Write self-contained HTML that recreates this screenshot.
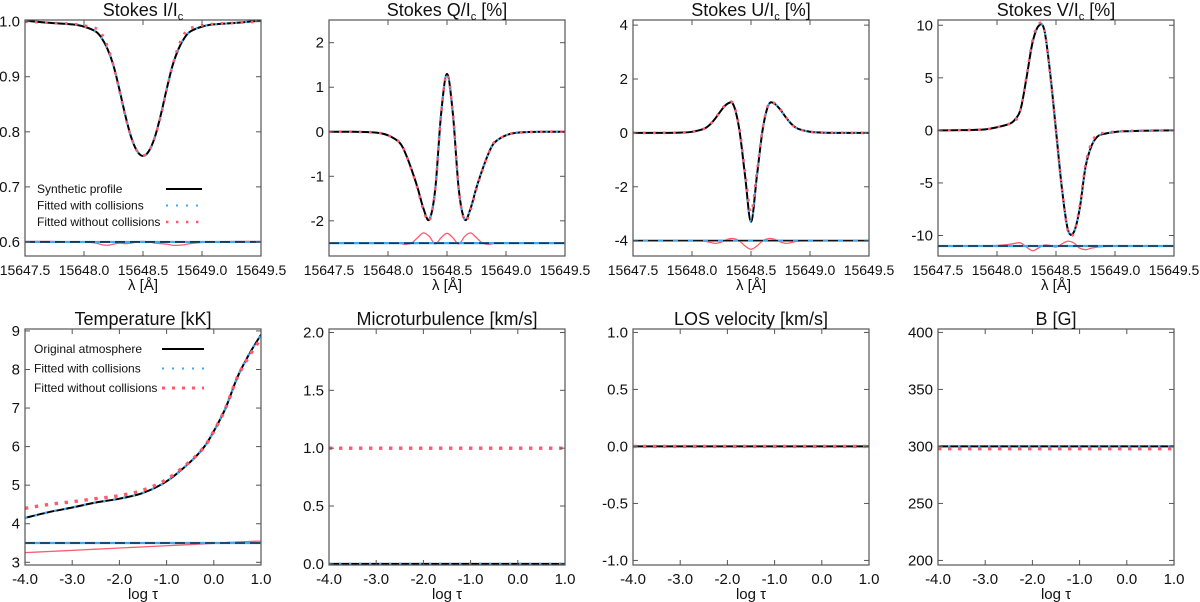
<!DOCTYPE html>
<html><head><meta charset="utf-8"><style>
html,body{margin:0;padding:0;background:#fff;}
svg{display:block;font-family:"Liberation Sans",Arial,sans-serif;}
</style></head><body>
<svg id="fig" width="1200" height="602" viewBox="0 0 1200 602" xmlns="http://www.w3.org/2000/svg"></svg>
<script>
// ---------- DATA ----------
const lambdaGrid = [15647.5,15647.7,15647.9,15648.0,15648.1,15648.15,15648.2,15648.25,15648.3,15648.35,15648.4,15648.45,15648.5,15648.55,15648.6,15648.65,15648.7,15648.75,15648.8,15648.85,15648.9,15649.0,15649.1,15649.3,15649.5];
const stokesISyn = [1.002,0.998,0.995,0.991,0.982,0.97,0.95,0.92,0.877,0.83,0.79,0.765,0.756,0.765,0.79,0.83,0.877,0.92,0.95,0.97,0.982,0.991,0.995,0.998,1.002];
const stokesIWith = [1.002,0.998,0.995,0.991,0.982,0.97,0.95,0.92,0.877,0.83,0.79,0.765,0.756,0.765,0.79,0.83,0.877,0.92,0.95,0.97,0.982,0.991,0.995,0.998,1.002];
const stokesIWithout = [1.0,0.998,0.996,0.993,0.988,0.978,0.955,0.92,0.875,0.828,0.79,0.765,0.757,0.765,0.79,0.828,0.875,0.92,0.955,0.978,0.988,0.993,0.996,0.998,1.0];
const stokesIResid = [0.601,0.601,0.6,0.6,0.598,0.595,0.594,0.596,0.598,0.597,0.598,0.6,0.601,0.6,0.598,0.597,0.596,0.594,0.594,0.595,0.597,0.599,0.6,0.601,0.601];
const stokesQSyn = [0,0,-0.02,-0.08,-0.25,-0.5,-0.85,-1.25,-1.72,-1.97,-1.3,0.4,1.3,0.4,-1.3,-1.97,-1.72,-1.25,-0.85,-0.5,-0.25,-0.08,-0.02,0,0];
const stokesQWith = [0,0,-0.02,-0.08,-0.25,-0.5,-0.85,-1.25,-1.72,-1.97,-1.3,0.4,1.3,0.4,-1.3,-1.97,-1.72,-1.25,-0.85,-0.5,-0.25,-0.08,-0.02,0,0];
const stokesQWithout = [0,0,-0.02,-0.08,-0.24,-0.5,-0.86,-1.27,-1.75,-2.0,-1.3,0.4,1.3,0.4,-1.3,-2.0,-1.75,-1.27,-0.86,-0.5,-0.24,-0.08,-0.02,0,0];
const stokesQResid = [-2.5,-2.5,-2.5,-2.5,-2.51,-2.53,-2.5,-2.38,-2.27,-2.35,-2.52,-2.38,-2.28,-2.38,-2.52,-2.35,-2.27,-2.38,-2.5,-2.53,-2.51,-2.5,-2.5,-2.5,-2.5];
const stokesUSyn = [0,0,0.01,0.04,0.15,0.3,0.55,0.85,1.08,1.05,0.15,-1.6,-3.3,-1.6,0.15,1.05,1.08,0.85,0.55,0.3,0.15,0.04,0.01,0,0];
const stokesUWith = [0,0,0.01,0.04,0.15,0.3,0.55,0.85,1.08,1.05,0.15,-1.6,-3.3,-1.6,0.15,1.05,1.08,0.85,0.55,0.3,0.15,0.04,0.01,0,0];
const stokesUWithout = [0,0,0.01,0.04,0.15,0.3,0.56,0.87,1.1,1.08,0.2,-1.45,-2.95,-1.45,0.2,1.08,1.1,0.87,0.56,0.3,0.15,0.04,0.01,0,0];
const stokesUResid = [-4,-4,-4,-4,-4.02,-4.06,-4.1,-4.05,-3.95,-3.92,-4.0,-4.2,-4.32,-4.2,-4.0,-3.92,-3.95,-4.05,-4.1,-4.06,-4.02,-4,-4,-4,-4];
const stokesVSyn = [0,0.02,0.1,0.3,0.6,1.0,2.0,5.0,8.3,9.9,9.6,5.5,0.0,-5.5,-9.4,-9.7,-7.5,-3.5,-1.5,-0.6,-0.35,-0.15,-0.08,-0.02,0];
const stokesVWith = [0,0.02,0.1,0.3,0.6,1.0,2.0,5.0,8.3,9.9,9.6,5.5,0.0,-5.5,-9.4,-9.7,-7.5,-3.5,-1.5,-0.6,-0.35,-0.15,-0.08,-0.02,0];
const stokesVWithout = [0,0.02,0.1,0.3,0.6,0.8,2.0,5.1,8.5,10.1,9.6,5.4,0.0,-5.5,-9.5,-9.8,-7.3,-3.3,-1.2,-0.4,-0.25,-0.12,-0.06,-0.02,0];
const stokesVResid = [-11,-11,-11,-10.95,-10.85,-10.75,-10.7,-11.1,-11.45,-11.2,-10.9,-10.95,-11.1,-10.8,-10.55,-10.7,-11.2,-11.35,-11.2,-11.1,-11.05,-11,-11,-11,-11];

const logTauGrid = [-4,-3.5,-3,-2.5,-2,-1.5,-1,-0.5,-0.2,0,0.25,0.5,0.75,1];
const tempOrig = [4.15,4.3,4.42,4.55,4.65,4.8,5.1,5.6,6.0,6.4,7.0,7.8,8.4,8.9];
const tempWith = [4.15,4.3,4.42,4.55,4.65,4.8,5.1,5.6,6.0,6.4,7.0,7.8,8.4,8.9];
const tempWithout = [4.4,4.5,4.57,4.65,4.73,4.87,5.15,5.62,6.0,6.4,7.0,7.8,8.35,8.8];
const tempResidRef = [3.5,3.5,3.5,3.5,3.5,3.5,3.5,3.5,3.5,3.5,3.5,3.5,3.5,3.5];
const tempResid = [3.25,3.28,3.31,3.34,3.37,3.4,3.43,3.46,3.48,3.49,3.51,3.53,3.54,3.55];
const flatGrid = [-4,1];
const microOrig = [0,0], microWith = [0,0], microWithout = [1.0,1.0];
const losOrig = [0,0], losWith = [0,0], losWithout = [0,0];
const bOrig = [300,300], bWith = [300,300], bWithout = [298,298];

const lamTicks = [15647.5,15648.0,15648.5,15649.0,15649.5];
const lamTickLabels = ["15647.5","15648.0","15648.5","15649.0","15649.5"];
const tauTicks = [-4,-3,-2,-1,0,1];
const tauTickLabels = ["-4.0","-3.0","-2.0","-1.0","0.0","1.0"];

// ---------- DRAW ----------
const NS="http://www.w3.org/2000/svg";
const svg=document.getElementById('fig');
const BLACK="#000", BLUE="#3fa9f5", RED="#ff5a6e";
function el(tag,attrs,parent){const e=document.createElementNS(NS,tag);for(const k in attrs)e.setAttribute(k,attrs[k]);(parent||svg).appendChild(e);return e;}
function smooth(pts){
  if(pts.length<3) return "M"+pts.map(p=>p[0].toFixed(2)+","+p[1].toFixed(2)).join("L");
  let d="M"+pts[0][0].toFixed(2)+","+pts[0][1].toFixed(2);
  for(let i=0;i<pts.length-1;i++){
    const p0=pts[Math.max(0,i-1)],p1=pts[i],p2=pts[i+1],p3=pts[Math.min(pts.length-1,i+2)];
    const c1=[p1[0]+(p2[0]-p0[0])/6,p1[1]+(p2[1]-p0[1])/6];
    const c2=[p2[0]-(p3[0]-p1[0])/6,p2[1]-(p3[1]-p1[1])/6];
    d+="C"+c1[0].toFixed(2)+","+c1[1].toFixed(2)+" "+c2[0].toFixed(2)+","+c2[1].toFixed(2)+" "+p2[0].toFixed(2)+","+p2[1].toFixed(2);
  }
  return d;
}
function panel(cfg){
  const g=el('g',{});
  
  
  const L=cfg.x0,R=cfg.x1,T=cfg.y0,B=cfg.y1;
  const sx=v=>L+(v-cfg.xr[0])/(cfg.xr[1]-cfg.xr[0])*(R-L);
  const sy=v=>B-(v-cfg.yr[0])/(cfg.yr[1]-cfg.yr[0])*(B-T);
  const clip=el('clipPath',{id:cfg.name+'-clip'},g);
  el('rect',{x:L,y:T,width:R-L,height:B-T},clip);
  const plot=el('g',{'clip-path':'url(#'+cfg.name+'-clip)'},g);
  
  
  cfg.series.forEach(s=>{
    const pts=s.x.map((xv,i)=>[sx(xv),sy(s.y[i])]);
    const p=el('path',{d:smooth(pts),fill:'none',stroke:s.c,'stroke-width':s.w,'stroke-dasharray':s.dash||'none','stroke-linecap':'butt'},plot);
    
    
  });
  const frame=el('rect',{x:L,y:T,width:R-L,height:B-T,fill:'none',stroke:'#555','stroke-width':1.2},g);
  
  
  cfg.xt.forEach((t,i)=>{
    const X=sx(t);
    el('line',{x1:X,x2:X,y1:B,y2:B-5,stroke:'#555','stroke-width':1},g);
    el('line',{x1:X,x2:X,y1:T,y2:T+5,stroke:'#555','stroke-width':1},g);
    const tx=el('text',{x:X,y:B+19,'font-size':cfg.xfs||15,'text-anchor':'middle',fill:'#111'},g);
    tx.textContent=cfg.xtl[i];
    
    
  });
  cfg.yt.forEach((t,i)=>{
    const Y=sy(t);
    el('line',{x1:L,x2:L+5,y1:Y,y2:Y,stroke:'#555','stroke-width':1},g);
    el('line',{x1:R,x2:R-5,y1:Y,y2:Y,stroke:'#555','stroke-width':1},g);
    const ty=el('text',{x:L-5,y:Y+5,'font-size':15,'text-anchor':'end',fill:'#111'},g);
    ty.textContent=cfg.ytl[i];
    
    
  });
  const tt=el('text',{x:(L+R)/2,y:T-4,'font-size':18,'text-anchor':'middle',fill:'#111'},g);
  tt.innerHTML=cfg.title;
  
  
  const xl=el('text',{x:(L+R)/2,y:B+34,'font-size':15,'text-anchor':'middle',fill:'#111'},g);
  xl.textContent=cfg.xlabel;
  
  
  if(cfg.legend){
    cfg.legend.items.forEach((it,i)=>{
      const y=cfg.legend.y+i*cfg.legend.dy;
      const lt=el('text',{x:cfg.legend.x,y:y+4,'font-size':12,fill:'#111'},g);
      lt.textContent=it.t;
      
      
      el('line',{x1:cfg.legend.lx0,x2:cfg.legend.lx1,y1:y,y2:y,stroke:it.c,'stroke-width':it.w,'stroke-dasharray':it.dash||'none'},g);
    });
  }
}
function lamSeries(syn,w,wo,res,base){
  return [
    {name:'residual-without-collisions',x:lambdaGrid,y:res,c:RED,w:1.3},
    {name:'residual-reference-blue',x:[15647.5,15649.5],y:[base,base],c:BLUE,w:2.2},
    {name:'residual-reference-black',x:[15647.5,15649.5],y:[base,base],c:'#111',w:1.3,dash:'10 5'},
    {name:'synthetic-profile',x:lambdaGrid,y:syn,c:BLACK,w:2},
    {name:'fitted-with-collisions',x:lambdaGrid,y:w,c:BLUE,w:2.2,dash:'2 8'},
    {name:'fitted-without-collisions',x:lambdaGrid,y:wo,c:RED,w:2.6,dash:'2.6 7.4'}
  ];
}
const rowTop={y0:20,y1:256}, rowBot={y0:329,y1:565};
const cols=[[25,261],[329,565],[633,869],[938,1174]];
const XL="λ [Å]", TL="log τ";
panel({name:'stokes-i-panel',xfs:14,x0:cols[0][0],x1:cols[0][1],...rowTop,xr:[15647.5,15649.5],yr:[0.5745,1.003],
  xt:lamTicks,xtl:lamTickLabels,yt:[0.6,0.7,0.8,0.9,1.0],ytl:["0.6","0.7","0.8","0.9","1.0"],
  title:'Stokes I/I<tspan font-size="11" dy="4">c</tspan>',xlabel:XL,
  series:lamSeries(stokesISyn,stokesIWith,stokesIWithout,stokesIResid,0.6),
  legend:{x:37,y:189,dy:16.5,lx0:166,lx1:202,items:[{t:'Synthetic profile',c:BLACK,w:2},{t:'Fitted with collisions',c:BLUE,w:2,dash:'2 8'},{t:'Fitted without collisions',c:RED,w:2.4,dash:'2.4 7.6'}]}});
panel({name:'stokes-q-panel',xfs:14,x0:cols[1][0],x1:cols[1][1],...rowTop,xr:[15647.5,15649.5],yr:[-2.79,2.51],
  xt:lamTicks,xtl:lamTickLabels,yt:[-2,-1,0,1,2],ytl:["-2","-1","0","1","2"],
  title:'Stokes Q/I<tspan font-size="11" dy="4">c</tspan><tspan dy="-4"> [%]</tspan>',xlabel:XL,
  series:lamSeries(stokesQSyn,stokesQWith,stokesQWithout,stokesQResid,-2.5)});
panel({name:'stokes-u-panel',xfs:14,x0:cols[2][0],x1:cols[2][1],...rowTop,xr:[15647.5,15649.5],yr:[-4.57,4.19],
  xt:lamTicks,xtl:lamTickLabels,yt:[-4,-2,0,2,4],ytl:["-4","-2","0","2","4"],
  title:'Stokes U/I<tspan font-size="11" dy="4">c</tspan><tspan dy="-4"> [%]</tspan>',xlabel:XL,
  series:lamSeries(stokesUSyn,stokesUWith,stokesUWithout,stokesUResid,-4)});
panel({name:'stokes-v-panel',xfs:14,x0:cols[3][0],x1:cols[3][1],...rowTop,xr:[15647.5,15649.5],yr:[-11.95,10.5],
  xt:lamTicks,xtl:lamTickLabels,yt:[-10,-5,0,5,10],ytl:["-10","-5","0","5","10"],
  title:'Stokes V/I<tspan font-size="11" dy="4">c</tspan><tspan dy="-4"> [%]</tspan>',xlabel:XL,
  series:lamSeries(stokesVSyn,stokesVWith,stokesVWithout,stokesVResid,-11)});

function tauSeries(gx,o,w,wo){
  return [
    {name:'original-atmosphere',x:gx,y:o,c:BLACK,w:2},
    {name:'fitted-with-collisions',x:gx,y:w,c:BLUE,w:2.4,dash:'2.4 7.6'},
    {name:'fitted-without-collisions',x:gx,y:wo,c:RED,w:3.4,dash:'3.4 6.6'}
  ];
}
const tS=tauSeries(logTauGrid,tempOrig,tempWith,tempWithout);
tS.unshift({name:'residual-reference-black',x:logTauGrid,y:tempResidRef,c:'#111',w:1.3,dash:'10 5'});
tS.unshift({name:'residual-reference-blue',x:logTauGrid,y:tempResidRef,c:BLUE,w:2.2});
tS.unshift({name:'residual-without-collisions',x:logTauGrid,y:tempResid,c:RED,w:1.3});
panel({name:'temperature-panel',x0:cols[0][0],x1:cols[0][1],...rowBot,xr:[-4,1],yr:[2.93,9.05],
  xt:tauTicks,xtl:tauTickLabels,yt:[3,4,5,6,7,8,9],ytl:["3","4","5","6","7","8","9"],
  title:'Temperature [kK]',xlabel:TL,series:tS,
  legend:{x:34,y:349,dy:19.5,lx0:162,lx1:204,items:[{t:'Original atmosphere',c:BLACK,w:2},{t:'Fitted with collisions',c:BLUE,w:2,dash:'2 8'},{t:'Fitted without collisions',c:RED,w:3,dash:'3 7'}]}});
panel({name:'microturbulence-panel',x0:cols[1][0],x1:cols[1][1],...rowBot,xr:[-4,1],yr:[-0.01,2.03],
  xt:tauTicks,xtl:tauTickLabels,yt:[0,0.5,1,1.5,2],ytl:["0.0","0.5","1.0","1.5","2.0"],
  title:'Microturbulence [km/s]',xlabel:TL,series:tauSeries(flatGrid,microOrig,microWith,microWithout)});
panel({name:'los-velocity-panel',x0:cols[2][0],x1:cols[2][1],...rowBot,xr:[-4,1],yr:[-1.04,1.03],
  xt:tauTicks,xtl:tauTickLabels,yt:[-1,-0.5,0,0.5,1],ytl:["-1.0","-0.5","0.0","0.5","1.0"],
  title:'LOS velocity [km/s]',xlabel:TL,series:tauSeries(flatGrid,losOrig,losWith,losWithout)});
panel({name:'magnetic-field-panel',x0:cols[3][0],x1:cols[3][1],...rowBot,xr:[-4,1],yr:[196,403],
  xt:tauTicks,xtl:tauTickLabels,yt:[200,250,300,350,400],ytl:["200","250","300","350","400"],
  title:'B [G]',xlabel:TL,series:tauSeries(flatGrid,bOrig,bWith,bWithout)});
</script>
</body></html>
